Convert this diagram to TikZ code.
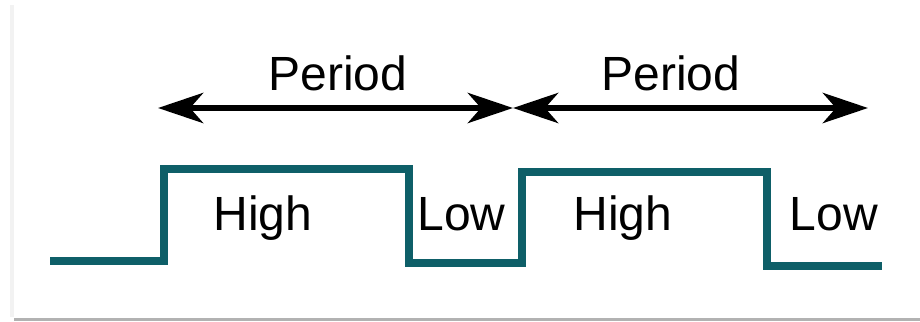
\documentclass[tikz,border=0pt]{standalone}
\usepackage{fontspec}
\setmainfont{Liberation Sans}
\usetikzlibrary{arrows.meta, positioning}
\definecolor{waveteal}{HTML}{0E5F68}

\begin{document}
\begin{tikzpicture}[x=1pt, y=-1pt]
			\tikzstyle{Wave} = [ %the square signal
				draw=waveteal,
				line width=8pt,
				line join=miter
			]
			\tikzstyle{Span} = [
				draw=black,
				line width=6.5pt,
				{Stealth[length=45pt, width=30pt, inset=13pt]}-{Stealth[length=45pt, width=30pt, inset=13pt]}
			]
			\tikzstyle{Label} = [
				font=\fontsize{48}{52}\selectfont,
				anchor=base,
				inner sep=0pt
			]
			\useasboundingbox (0,0) rectangle (920,321);
			\fill[gray!10] (10,5) rectangle (14,317);
			\draw[gray!60, line width=3pt] (14,319) -- (920,319);

			\coordinate (w0) at (50,260.5);
			\coordinate (w1) at (163.5,260.5);
			\coordinate (w2) at (163.5,169);
			\coordinate (w3) at (409,169);
			\coordinate (w4) at (409,263);
			\coordinate (w5) at (521.5,263);
			\coordinate (w6) at (521.5,172);
			\coordinate (w7) at (767,172);
			\coordinate (w8) at (767,265.5);
			\coordinate (w9) at (882,265.5);
			\draw[Wave] (w0) -- (w1) -- (w2) -- (w3) -- (w4) -- (w5) -- (w6) -- (w7) -- (w8) -- (w9);

			\coordinate (pL) at (158,108);
			\coordinate (pM) at (513,108);
			\coordinate (pR) at (868,108);
			\draw[Span] (pL) -- (pM);
			\draw[Span] (pM) -- (pR);

			\node (per1) [Label] at (338,90) {Period};
			\node (per2) [Label] at (671,90) {Period};
			\node (high1) [Label] at (263,230) {High};
			\node (low1) [Label] at (461.5,230) {Low};
			\node (high2) [Label] at (623,230) {High};
			\node (low2) [Label] at (834,230) {Low};
\end{tikzpicture}
\end{document}
